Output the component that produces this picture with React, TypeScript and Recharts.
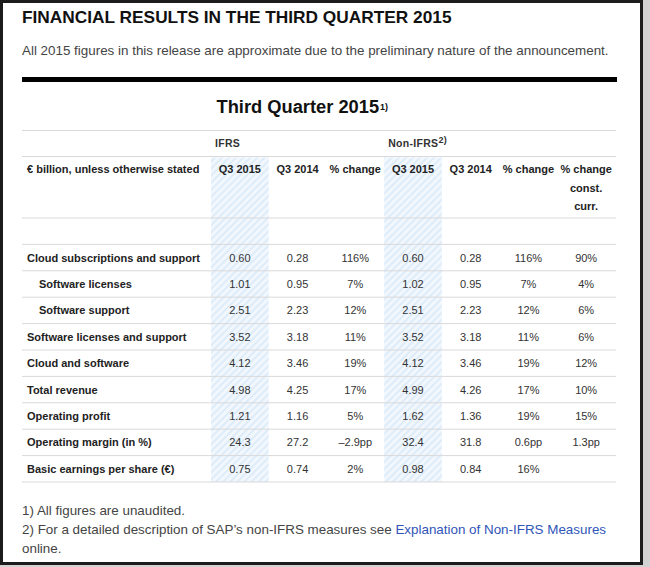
import { ScatterChart, Scatter, XAxis, YAxis, ReferenceArea, Customized } from 'recharts'

const FONT = '"Liberation Sans", Arial, Helvetica, sans-serif'
const RULE = '#d9d9d9'

// columns of the table, left to right
const COLUMN_KEYS = ['ifrs2015', 'ifrs2014', 'ifrsChange', 'nonIfrs2015', 'nonIfrs2014', 'nonIfrsChange', 'nonIfrsChangeCc']
const COLUMN_HEADERS = [
  ['Q3 2015'],
  ['Q3 2014'],
  ['% change'],
  ['Q3 2015'],
  ['Q3 2014'],
  ['% change'],
  ['% change', 'const.', 'curr.'],
]
const HIGHLIGHTED = ['ifrs2015', 'nonIfrs2015']
const GROUP_LABELS: Record<string, { text: string; note?: string }> = {
  ifrs2015: { text: 'IFRS' },
  nonIfrs2015: { text: 'Non-IFRS', note: '2)' },
}

// rows, top to bottom (first one is the empty spacer row)
const ROW_LABELS = [
  '',
  'Cloud subscriptions and support',
  'Software licenses',
  'Software support',
  'Software licenses and support',
  'Cloud and software',
  'Total revenue',
  'Operating profit',
  'Operating margin (in %)',
  'Basic earnings per share (€)',
]
const INDENTED = ['Software licenses', 'Software support']
const ROW_KEYS = ROW_LABELS.map((_, i) => `row${i}`)

const IFRS_Q3_2015 = ['', '0.60', '1.01', '2.51', '3.52', '4.12', '4.98', '1.21', '24.3', '0.75']
const IFRS_Q3_2014 = ['', '0.28', '0.95', '2.23', '3.18', '3.46', '4.25', '1.16', '27.2', '0.74']
const IFRS_CHANGE = ['', '116%', '7%', '12%', '11%', '19%', '17%', '5%', '–2.9pp', '2%']
const NON_IFRS_Q3_2015 = ['', '0.60', '1.02', '2.51', '3.52', '4.12', '4.99', '1.62', '32.4', '0.98']
const NON_IFRS_Q3_2014 = ['', '0.28', '0.95', '2.23', '3.18', '3.46', '4.26', '1.36', '31.8', '0.84']
const NON_IFRS_CHANGE = ['', '116%', '7%', '12%', '11%', '19%', '17%', '19%', '0.6pp', '16%']
const NON_IFRS_CHANGE_CC = ['', '90%', '4%', '6%', '6%', '12%', '10%', '15%', '1.3pp', '']

const SERIES = [
  IFRS_Q3_2015,
  IFRS_Q3_2014,
  IFRS_CHANGE,
  NON_IFRS_Q3_2015,
  NON_IFRS_Q3_2014,
  NON_IFRS_CHANGE,
  NON_IFRS_CHANGE_CC,
]

// table geometry
const TABLE_W = 594
const LABEL_W = 189
const PAD_RIGHT = 1
const HEADER_H = 88
const GROUP_H = 26.5
const CHART_H = 353
const ROW_H = (CHART_H - 1 - HEADER_H) / ROW_KEYS.length
const COL_W = (TABLE_W - LABEL_W - PAD_RIGHT) / COLUMN_KEYS.length

function TableFrame() {
  return (
    <g>
      <defs>
        <pattern id="hatch" width={5} height={5} patternUnits="userSpaceOnUse" patternTransform="rotate(45)">
          <rect width={5} height={5} fill="#f1f7fd" />
          <rect width={2} height={5} fill="#deecf9" />
        </pattern>
      </defs>
      <line x1={0} x2={TABLE_W} y1={0.5} y2={0.5} stroke={RULE} />
      <line x1={0} x2={TABLE_W} y1={GROUP_H} y2={GROUP_H} stroke={RULE} />
      <text x={5} y={43.3} fontFamily={FONT} fontSize={11} fontWeight="bold" fill="#222">
        € billion, unless otherwise stated
      </text>
    </g>
  )
}

function HeaderTick(props: any) {
  const { x, payload } = props
  const key = payload.value as string
  const i = COLUMN_KEYS.indexOf(key)
  const half = COL_W / 2
  const group = GROUP_LABELS[key]
  return (
    <g>
      {HIGHLIGHTED.includes(key) && (
        <rect x={x - half} y={GROUP_H + 1} width={COL_W} height={HEADER_H - GROUP_H - 1} fill="url(#hatch)" />
      )}
      {group && (
        <text x={x - half + 4} y={17.3} fontFamily={FONT} fontSize={10.5} fontWeight="bold" fill="#333" letterSpacing={0.3}>
          {group.text}
          {group.note && (
            <tspan fontSize={9} dy={-4}>
              {group.note}
            </tspan>
          )}
        </text>
      )}
      {(COLUMN_HEADERS[i] || []).map((line, j) => (
        <text key={j} x={x} y={43.3 + j * 18.3} textAnchor="middle" fontFamily={FONT} fontSize={11} fontWeight="bold" fill="#222">
          {line}
        </text>
      ))}
    </g>
  )
}

function RowTick(props: any) {
  const { y, payload } = props
  const i = ROW_KEYS.indexOf(payload.value)
  const label = ROW_LABELS[i] ?? ''
  const half = ROW_H / 2
  return (
    <g>
      {i === 0 && <line x1={0} x2={TABLE_W} y1={y - half} y2={y - half} stroke={RULE} />}
      <line x1={0} x2={TABLE_W} y1={y + half} y2={y + half} stroke={RULE} />
      <text x={INDENTED.includes(label) ? 17 : 5} y={y + 4} fontFamily={FONT} fontSize={11} fontWeight="bold" fill="#222">
        {label}
      </text>
    </g>
  )
}

function CellText(props: any) {
  const { cx, cy, payload } = props
  if (cx == null || cy == null) return null
  return (
    <text x={cx} y={cy + 4} textAnchor="middle" fontFamily={FONT} fontSize={11} fill="#333">
      {payload.text}
    </text>
  )
}

export default function App() {
  return (
    <div style={{ position: 'absolute', left: 0, top: 0, width: 650, height: 567, background: '#d2d2d2', fontFamily: FONT }}>
      <div
        style={{
          position: 'absolute',
          left: 0,
          top: 0,
          width: 643,
          height: 565,
          boxSizing: 'border-box',
          border: '3px solid #1c1c1c',
          background: '#fff',
        }}
      />
      <div style={{ position: 'absolute', left: 22, top: 8.9, fontSize: 17.3, lineHeight: 1, fontWeight: 'bold', color: '#111', whiteSpace: 'nowrap' }}>
        FINANCIAL RESULTS IN THE THIRD QUARTER 2015
      </div>
      <div style={{ position: 'absolute', left: 22, top: 43.9, fontSize: 13.4, lineHeight: 1, color: '#444', whiteSpace: 'nowrap' }}>
        All 2015 figures in this release are approximate due to the preliminary nature of the announcement.
      </div>
      <div style={{ position: 'absolute', left: 22, top: 77, width: TABLE_W + 1, height: 5, background: '#000' }} />
      <div style={{ position: 'absolute', left: 216.5, top: 98.1, fontSize: 18.3, lineHeight: 1, fontWeight: 'bold', color: '#111', whiteSpace: 'nowrap' }}>
        Third Quarter 2015
        <span style={{ fontSize: 9, position: 'relative', top: -3, marginLeft: 1 }}>1)</span>
      </div>

      <div style={{ position: 'absolute', left: 22, top: 130 }}>
        <ScatterChart width={TABLE_W} height={CHART_H} margin={{ top: 0, right: 0, bottom: 1, left: 0 }}>
          <Customized component={<TableFrame />} />
          {HIGHLIGHTED.map((k) => (
            <ReferenceArea key={k} x1={k} x2={k} fill="url(#hatch)" fillOpacity={1} stroke="none" ifOverflow="visible" />
          ))}
          <XAxis
            dataKey="col"
            type="category"
            allowDuplicatedCategory={false}
            orientation="top"
            height={HEADER_H}
            padding={{ left: LABEL_W, right: PAD_RIGHT }}
            interval={0}
            tickLine={false}
            axisLine={false}
            tick={<HeaderTick />}
          />
          <YAxis
            dataKey="row"
            type="category"
            allowDuplicatedCategory={false}
            mirror
            reversed
            interval={0}
            tickLine={false}
            axisLine={false}
            tick={<RowTick />}
          />
          {COLUMN_KEYS.map((col, c) => (
            <Scatter
              key={col}
              data={ROW_KEYS.map((row, r) => ({ col, row, text: SERIES[c][r] }))}
              shape={CellText}
              isAnimationActive={false}
            />
          ))}
        </ScatterChart>
      </div>

      <div style={{ position: 'absolute', left: 22, top: 500.6, width: TABLE_W, fontSize: 13.4, lineHeight: '19px', color: '#444' }}>
        <div>1) All figures are unaudited.</div>
        <div>
          2) For a detailed description of SAP’s non-IFRS measures see{' '}
          <span style={{ color: '#2f55b8' }}>Explanation of Non-IFRS Measures</span> online.
        </div>
      </div>
    </div>
  )
}
